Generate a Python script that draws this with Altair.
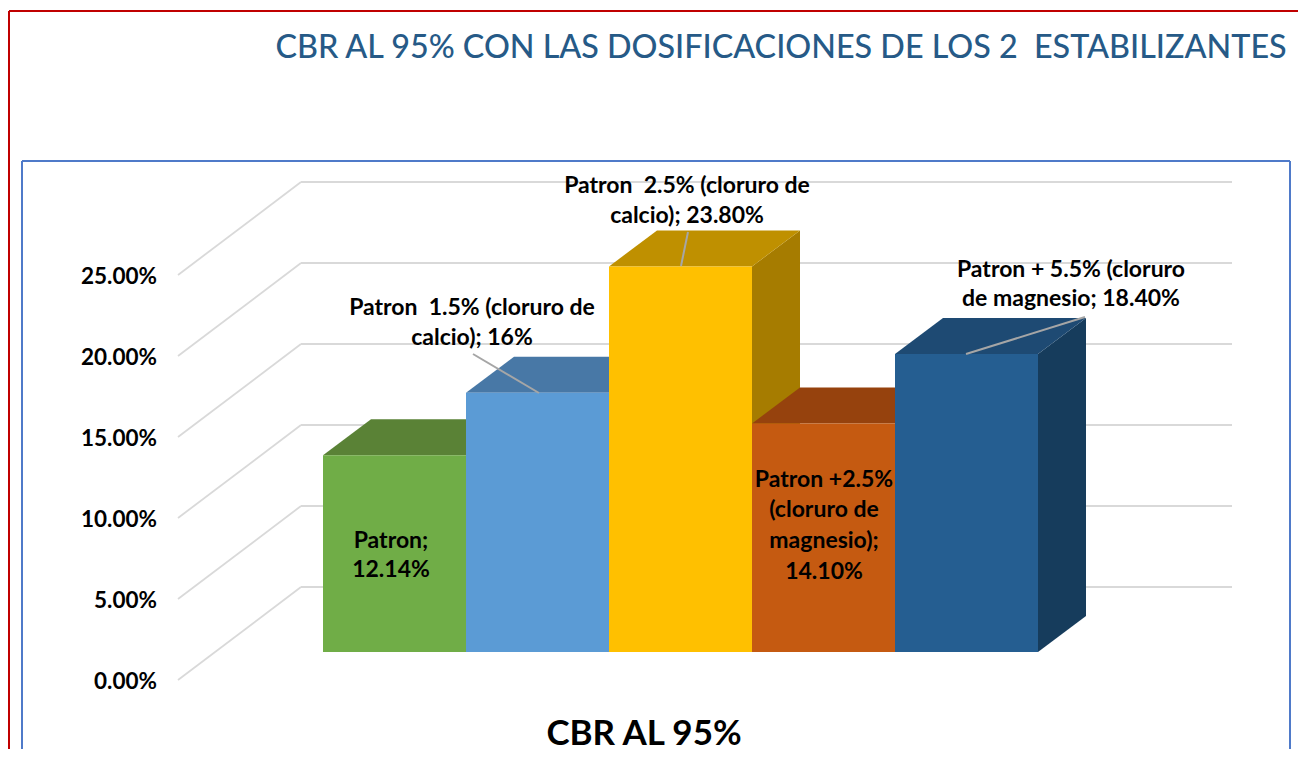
import altair as alt
import pandas as pd

# ---- chart values ----
categories = ["Patron", "Patron 1.5% (cloruro de calcio)", "Patron 2.5% (cloruro de calcio)",
              "Patron +2.5% (cloruro de magnesio)", "Patron + 5.5% (cloruro de magnesio"]
values = [12.14, 16.0, 23.8, 14.1, 18.4]
front_colors = ["#70AD47", "#5B9BD5", "#FFC000", "#C55A11", "#255E91"]
top_colors = ["#5A8236", "#4878A6", "#BF9000", "#96420D", "#1E4A73"]
side_colors = ["#54793A", "#44719B", "#A67C00", "#8A3F0C", "#163C5C"]
ticks = [0, 5, 10, 15, 20, 25]
tick_labels = ["0.00%", "5.00%", "10.00%", "15.00%", "20.00%", "25.00%"]
label_lines = [["Patron;", "12.14%"],
               ["Patron\u00a0 1.5% (cloruro de", "calcio); 16%"],
               ["Patron\u00a0 2.5% (cloruro de", "calcio); 23.80%"],
               ["Patron +2.5%", "(cloruro de", "magnesio);", "14.10%"],
               ["Patron + 5.5% (cloruro", "de magnesio; 18.40%"]]
title_text = "CBR AL 95% CON LAS DOSIFICACIONES DE LOS 2\u00a0 ESTABILIZANTES"
axis_title = "CBR AL 95%"

# ---- geometry of the pseudo-3D view (in data units) ----
W, H = 1290, 741
PX_X, PX_Y = 143.0, 16.2
def X(p): return (p - 323) / PX_X
def Y(p): return (652 - p) / PX_Y
bar_dx, bar_dy = 48 / PX_X, 36 / PX_Y
wall_x0, wall_x1, wall_x2 = X(178), X(301), X(1232)
floor_front, floor_back = Y(680), Y(587)
x_scale = alt.Scale(domain=[X(8), X(8 + W)], nice=False, zero=False)
y_scale = alt.Scale(domain=[Y(8 + H), Y(8)], nice=False, zero=False)
xq = lambda f: alt.X(f"{f}:Q", scale=x_scale, axis=None)
yq = lambda f: alt.Y(f"{f}:Q", scale=y_scale, axis=None)
FONT = "Lato"

layers = []

def seg(rows, color, width):
    return alt.Chart(pd.DataFrame(rows, columns=["a", "b", "a2", "b2"])).mark_rule(
        color=color, strokeWidth=width).encode(
        x=xq("a"), y=yq("b"), x2="a2:Q", y2="b2:Q")

# gridlines: wall + back
wall, back = [], []
for t in ticks:
    wall.append([wall_x0, floor_front + t, wall_x1, floor_back + t])
    back.append([wall_x1, floor_back + t, wall_x2, floor_back + t])
layers += [seg(wall, "#D9D9D9", 1.8), seg(back, "#D9D9D9", 1.8)]

# bars, left to right
for i, v in enumerate(values):
    x0, x1 = float(i), float(i + 1)
    side = pd.DataFrame({"x": [x1, x1 + bar_dx], "lo": [0, bar_dy], "hi": [v, v + bar_dy]})
    layers.append(alt.Chart(side).mark_area(color=side_colors[i]).encode(
        x=xq("x"), y=yq("lo"), y2="hi:Q"))
    top = pd.DataFrame({"x": [x0, x0 + bar_dx, x1, x1 + bar_dx],
                        "lo": [v, v, v, v + bar_dy],
                        "hi": [v, v + bar_dy, v + bar_dy, v + bar_dy]})
    layers.append(alt.Chart(top).mark_area(color=top_colors[i]).encode(
        x=xq("x"), y=yq("lo"), y2="hi:Q"))
    front = pd.DataFrame({"x": [x0], "x2": [x1], "y": [0.0], "y2": [v], "cat": [categories[i]]})
    layers.append(alt.Chart(front).mark_rect(color=front_colors[i]).encode(
        x=xq("x"), x2="x2:Q", y=yq("y"), y2="y2:Q"))

# leader lines
layers.append(seg([[X(473), Y(354), X(539), Y(393)],
                   [X(688), Y(232), X(681), Y(266)],
                   [X(966), Y(354), X(1085), Y(317)]], "#A6A6A6", 2))

def text(rows, size, weight="bold", color="#000000", align="center", dy=1.5):
    return alt.Chart(pd.DataFrame(rows, columns=["px", "py", "t"])).mark_text(
        font=FONT, fontSize=size, fontWeight=weight, color=color, align=align, baseline="middle", dy=dy
    ).encode(x=xq("px"), y=yq("py"), text="t:N")

# data labels
centers = [(391, [539, 568]), (472, [306, 336]), (687, [184, 214]),
           (824, [478, 508, 539, 570]), (1071, [268, 297])]
rows = []
for (cx, ys), lines in zip(centers, label_lines):
    for py, ln in zip(ys, lines):
        rows.append([X(cx), Y(py), ln])
layers.append(text(rows, 23))

# axis labels
layers.append(text([[X(157), floor_front + t, l] for t, l in zip(ticks, tick_labels)], 22.5, align="right"))
# titles
layers.append(text([[X(781), Y(46), title_text]], 32.3, weight=500, color="#265A87", dy=2))
layers.append(text([[X(644), Y(732), axis_title]], 35))

# frames
def frame(x=None, x2=None, y=None, y2=None, color="#000000"):
    return alt.Chart(pd.DataFrame({"k": [0]})).mark_rule(color=color, strokeWidth=2).encode(
        x=alt.value(x), x2=alt.value(x2), y=alt.value(y), y2=alt.value(y2))
RED, BLUE = "#C00000", "#4F7AC9"
layers += [frame(1, 1, 3, H, RED), frame(1, W, 3, 3, RED),
           frame(14, 14, 153, H, BLUE), frame(14, 1282, 153, 153, BLUE), frame(1282, 1282, 153, H, BLUE)]

chart = alt.layer(*layers).properties(
    width=W, height=H, padding=0, background="#FFFFFF",
    autosize=alt.AutoSizeParams(type="none")
).configure_view(stroke=None)

chart.save("out.html", embed_options={"renderer": "svg", "actions": False})
